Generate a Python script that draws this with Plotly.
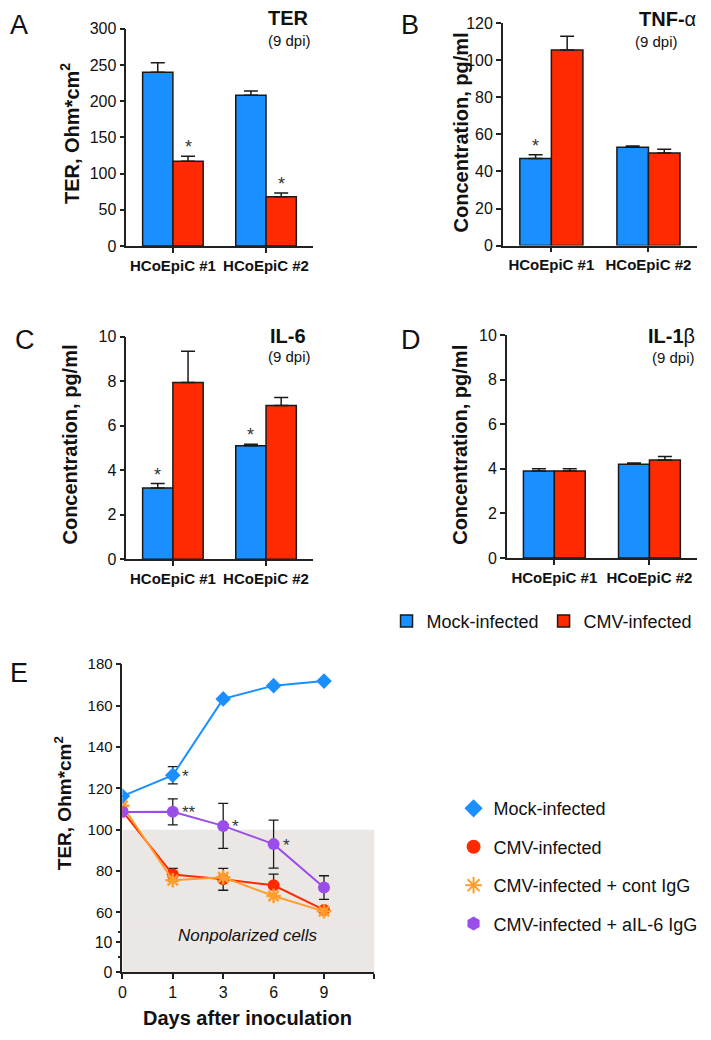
import plotly.graph_objects as go

# ---- data ----
cells = ["HCoEpiC #1", "HCoEpiC #2"]

ter_mock = [240, 208]
ter_mock_err = [13, 6]
ter_cmv = [117, 68]
ter_cmv_err = [7, 5]

tnf_mock = [47, 53]
tnf_mock_err = [2, 0.7]
tnf_cmv = [105.5, 50]
tnf_cmv_err = [7.5, 2]

il6_mock = [3.2, 5.1]
il6_mock_err = [0.2, 0.06]
il6_cmv = [7.94, 6.9]
il6_cmv_err = [1.4, 0.37]

il1b_mock = [3.9, 4.2]
il1b_mock_err = [0.1, 0.06]
il1b_cmv = [3.9, 4.4]
il1b_cmv_err = [0.1, 0.15]

days = [0, 1, 3, 6, 9]
e_mock = [116.2, 126.3, 163.2, 169.6, 171.8]
e_mock_err = [0, 4.2, 0, 0, 0]
e_cmv = [108.9, 78.3, 76.0, 73.1, 61.2]
e_cmv_err = [0, 3, 5.3, 5.4, 0]
e_cont = [111.5, 75.5, 77.0, 67.9, 60.5]
e_ail6 = [108.5, 108.6, 101.8, 93.0, 72.0]
e_ail6_err = [0, 6.3, 10.9, 11.6, 5.7]

BLUE = "#1A8FFF"
RED = "#FF2A00"
ORANGE = "#FF9E2C"
PURPLE = "#9B4DEB"
FONT = "Liberation Sans, Arial, sans-serif"

# page body adds 8px margin, so the figure is a bit smaller than the window
OX, OY = 8, 8
W, H = 695, 1024


def px(x):
    return (x - OX) / W


def py(y):
    return 1 - (y - OY) / H


fig = go.Figure()

# bar panels: (xaxis, yaxis, mock, mock_err, cmv, cmv_err, legend)
panels = [
    ("x", "y", ter_mock, ter_mock_err, ter_cmv, ter_cmv_err, True),
    ("x2", "y2", tnf_mock, tnf_mock_err, tnf_cmv, tnf_cmv_err, False),
    ("x3", "y3", il6_mock, il6_mock_err, il6_cmv, il6_cmv_err, False),
    ("x4", "y4", il1b_mock, il1b_mock_err, il1b_cmv, il1b_cmv_err, False),
]
for xa, ya, m, me, c, ce, leg in panels:
    for name, vals, errs, col in [("Mock-infected", m, me, BLUE), ("CMV-infected", c, ce, RED)]:
        fig.add_trace(go.Bar(
            x=cells, y=vals, name=name, xaxis=xa, yaxis=ya,
            marker=dict(color=col, line=dict(color="#1a1a1a", width=1.5)),
            error_y=dict(type="data", array=errs, arrayminus=[0] * len(errs), symmetric=False,
                         color="#1a1a1a", thickness=1.5, width=7),
            showlegend=leg, legend="legend", legendgroup=name,
        ))

# panel E
xi = list(range(len(days)))
fig.add_trace(go.Scatter(x=[None], y=[None], xaxis="x5", yaxis="y5", showlegend=False))
lines = [
    ("CMV-infected", e_cmv, e_cmv_err, RED, "circle", 12),
    ("CMV-infected + cont IgG", e_cont, None, ORANGE, "asterisk-open", 12),
    ("CMV-infected + aIL-6 IgG", e_ail6, e_ail6_err, PURPLE, "circle", 12),
    ("Mock-infected", e_mock, e_mock_err, BLUE, "diamond", 12),
]
for name, vals, errs, col, sym, sz in lines:
    mk = dict(color=col, symbol=sym, size=sz)
    if sym == "asterisk-open":
        mk["line"] = dict(color=col, width=2.5)
    tr = dict(x=xi, y=vals, mode="lines+markers", xaxis="x5", yaxis="y6",
              line=dict(color=col, width=2), marker=mk, showlegend=False)
    if errs is not None:
        tr["error_y"] = dict(type="data", array=errs, color="#1a1a1a", thickness=1.3, width=5)
    fig.add_trace(go.Scatter(**tr))

# legend-only entries for E (markers only)
leg_items = [
    ("Mock-infected", BLUE, "diamond"),
    ("CMV-infected", RED, "circle"),
    ("CMV-infected + cont IgG", ORANGE, "asterisk-open"),
    ("CMV-infected + aIL-6 IgG", PURPLE, "hexagon"),
]
for i, (name, col, sym) in enumerate(leg_items):
    mk = dict(color=col, symbol=sym, size=14)
    if sym == "asterisk-open":
        mk["line"] = dict(color=col, width=2)
    fig.add_trace(go.Scatter(x=[None], y=[None], mode="markers", name=name, marker=mk,
                             xaxis="x5", yaxis="y6", legend="legend2", legendgroup="e%d" % i))

axis_common = dict(showline=True, linecolor="#222", linewidth=1.5, ticks="outside",
                   ticklen=5, tickwidth=1.5, tickcolor="#222", showgrid=False, zeroline=False,
                   tickfont=dict(family=FONT, size=16, color="#111"))
xcat = dict(axis_common, tickfont=dict(family=FONT, size=15, color="#111", weight="bold"))

fig.update_layout(
    width=W, height=H, margin=dict(l=0, r=0, t=0, b=0),
    paper_bgcolor="white", plot_bgcolor="rgba(0,0,0,0)",
    barmode="group", bargap=0.35, bargroupgap=0,
    font=dict(family=FONT, color="#111"),
    xaxis=dict(xcat, domain=[px(124), px(313)], anchor="y"),
    yaxis=dict(axis_common, domain=[py(241), py(20)], range=[0, 300], dtick=50, anchor="x"),
    xaxis2=dict(xcat, domain=[px(506), px(703)], anchor="y2"),
    yaxis2=dict(axis_common, domain=[py(240.7), py(14.3)], range=[0, 120], dtick=20, anchor="x2"),
    xaxis3=dict(xcat, domain=[px(124), px(313)], anchor="y3"),
    yaxis3=dict(axis_common, domain=[py(560), py(333.3)], range=[0, 10], dtick=2, anchor="x3"),
    xaxis4=dict(xcat, domain=[px(510), px(703)], anchor="y4"),
    yaxis4=dict(axis_common, domain=[py(558.7), py(331.7)], range=[0, 10], dtick=2, anchor="x4"),
    xaxis5=dict(axis_common, domain=[px(120), px(375.7)], anchor="y5", range=[0, 5],
                tickvals=xi, ticktext=[str(d) for d in days],
                minor=dict(tickvals=[5], ticks="outside", ticklen=5, tickcolor="#222", tickwidth=1.5)),
    yaxis5=dict(axis_common, domain=[py(980), py(934)], range=[0, 15.3], tickvals=[0, 10],
                anchor="x5", minor=dict(tickvals=[5, 13.5], ticks="outside", ticklen=3,
                                        tickcolor="#222", tickwidth=1.5)),
    yaxis6=dict(axis_common, domain=[py(935), py(666.7)], range=[52.6, 180], dtick=20,
                tick0=60, anchor="x5", tickfont=dict(family=FONT, size=15, color="#111")),
    legend=dict(orientation="h", x=px(388), y=py(623), xanchor="left", yanchor="middle",
                font=dict(family=FONT, size=18, color="#111"), bgcolor="rgba(0,0,0,0)"),
    legend2=dict(x=px(456), y=py(795), xanchor="left", yanchor="top", tracegroupgap=12,
                 font=dict(family=FONT, size=18, color="#111"), bgcolor="rgba(0,0,0,0)"),
)

# shaded nonpolarized region
fig.add_shape(type="rect", xref="x5", yref="y6", x0=0, x1=5, y0=52.6, y1=100,
              fillcolor="#EBE7E4", line_width=0, layer="below")
fig.add_shape(type="rect", xref="x5", yref="y5", x0=0, x1=5, y0=0, y1=15.3,
              fillcolor="#EBE7E4", line_width=0, layer="below")

ann = []


def text(x, y, s, size, bold=False, italic=False, angle=0, xanchor="center"):
    ann.append(dict(x=px(x), y=py(y), xref="paper", yref="paper", text=s, showarrow=False,
                    textangle=angle, xanchor=xanchor, yanchor="middle",
                    font=dict(family=FONT, size=size, color="#111",
                              weight="bold" if bold else "normal",
                              style="italic" if italic else "normal")))


# panel letters
text(4, 16, "A", 27, xanchor="left")
text(401, 16, "B", 27, xanchor="left")
text(9, 337, "C", 27, xanchor="left")
text(401, 337, "D", 27, xanchor="left")
text(4, 676, "E", 27, xanchor="left")

# panel titles
text(311, 9, "TER", 20, bold=True, xanchor="right")
text(313, 32, "(9 dpi)", 15, xanchor="right")
text(704, 10, "<b>TNF-</b>α", 20, xanchor="right")
text(686, 33, "(9 dpi)", 15, xanchor="right")
text(308, 333, "IL-6", 20, bold=True, xanchor="right")
text(313, 354, "(9 dpi)", 15, xanchor="right")
text(703, 333, "<b>IL-1</b>β", 20, xanchor="right")
text(703, 355, "(9 dpi)", 15, xanchor="right")

# y titles
text(67, 127, "TER, Ohm*cm<sup>2</sup>", 20, bold=True, angle=-90)
text(463, 125, "Concentration, pg/ml", 20, bold=True, angle=-90)
text(67, 443, "Concentration, pg/ml", 20, bold=True, angle=-90)
text(463, 443, "Concentration, pg/ml", 20, bold=True, angle=-90)
text(60, 808, "TER, Ohm*cm<sup>2</sup>", 19, bold=True, angle=-90)
text(247, 1027, "Days after inoculation", 20, bold=True)
text(247, 943, "Nonpolarized cells", 17, italic=True)

# significance stars on bar panels
stars = [("x", "y", 1 / 6, ter_cmv[0] + ter_cmv_err[0]),
         ("x", "y", 1 + 1 / 6, ter_cmv[1] + ter_cmv_err[1]),
         ("x2", "y2", -1 / 6, tnf_mock[0] + tnf_mock_err[0]),
         ("x3", "y3", -1 / 6, il6_mock[0] + il6_mock_err[0]),
         ("x3", "y3", 1 - 1 / 6, il6_mock[1] + il6_mock_err[1])]
for xa, ya, xv, yv in stars:
    ann.append(dict(x=xv, y=yv, xref=xa, yref=ya, text="*", showarrow=False, yanchor="bottom",
                    yshift=-3, font=dict(family=FONT, size=18, color="#333")))

# stars on panel E
e_stars = [(1, e_mock[1], "*"), (1, e_ail6[1], "**"), (2, e_ail6[2], "*"), (3, e_ail6[3], "*")]
for xv, yv, s in e_stars:
    ann.append(dict(x=xv, y=yv, xref="x5", yref="y6", text=s, showarrow=False, xanchor="left",
                    yanchor="middle", xshift=7, yshift=-1, font=dict(family=FONT, size=17, color="#333")))

fig.update_layout(annotations=ann)

fig.write_html("out.html")
